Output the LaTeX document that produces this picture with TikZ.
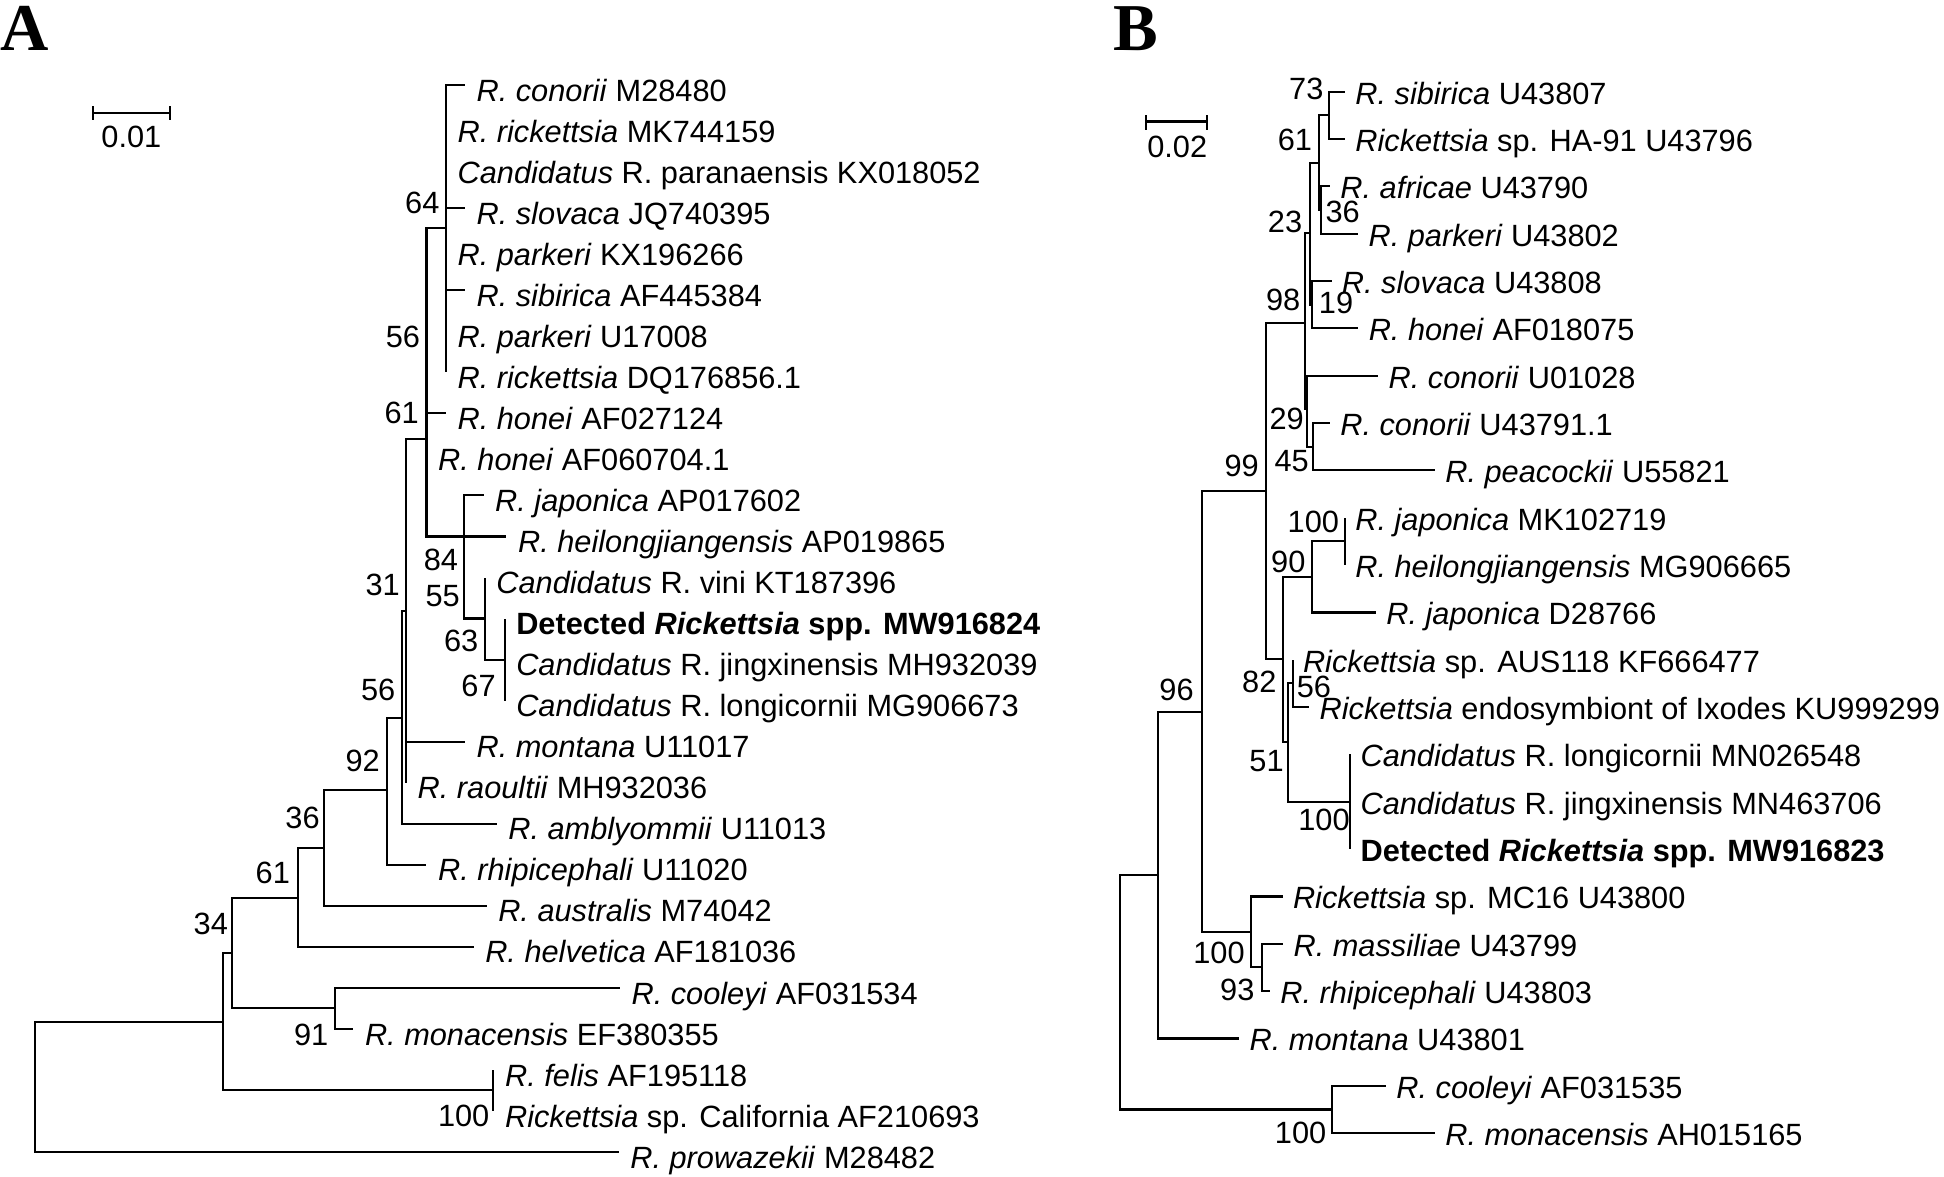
\documentclass[tikz,border=0pt]{standalone}
\usepackage{fontspec}
\setmainfont{Liberation Sans}
\newfontfamily\panelfont{Liberation Serif}
\newcommand{\lfa}[3]{\coordinate (#1) at (#2); \node[lfA] (t#1) at (#1) {#3};}
\newcommand{\lfb}[3]{\coordinate (#1) at (#2); \node[lfB] (t#1) at (#1) {#3};}
\begin{document}
\begin{tikzpicture}[x=0.5pt,y=-0.5pt,
  br/.style={line width=0.85pt},
  txt/.style={inner sep=0pt, font=\fontsize{12.4pt}{14pt}\selectfont},
  lfA/.style={txt, anchor=base west, xshift=4.5pt, yshift=-6.5pt},
  lfB/.style={txt, anchor=base west, xshift=4pt, yshift=-5pt},
  bs/.style={txt},
  panel/.style={inner sep=0pt, anchor=base west, font=\panelfont\bfseries\fontsize{27pt}{30pt}\selectfont}]
\useasboundingbox (0,0) rectangle (1568,949);
% panel letters
\node[panel] (labA) at (0,40.5) {A};
\node[panel] (labB) at (898,40.5) {B};
% scale bars
\coordinate (sAl) at (75,90.9); \coordinate (sAr) at (137,90.9);
\draw[br] (sAl) -- (sAr);
\draw[br] ([yshift=2.7pt]sAl) -- ([yshift=-2.95pt]sAl);
\draw[br] ([yshift=2.7pt]sAr) -- ([yshift=-2.95pt]sAr);
\node[bs] (sAt) at (106,110.4) {0.01};
\coordinate (sBl) at (924.5,98); \coordinate (sBr) at (973.8,98);
\draw[br] (sBl) -- (sBr);
\draw[br] ([yshift=2.6pt]sBl) -- ([yshift=-3.45pt]sBl);
\draw[br] ([yshift=2.6pt]sBr) -- ([yshift=-3.45pt]sBr);
\node[bs] (sBt) at (949.5,118.3) {0.02};

% ================= Panel A =================
\coordinate (rA) at (28,876.6);
\coordinate (xA) at (180,824);
\coordinate (nA34) at (187,769);
\coordinate (nA61L) at (240,724);
\coordinate (nA36) at (261.5,684);
\coordinate (nA92) at (312,637);
\coordinate (nA56L) at (324,579);
\coordinate (nA31) at (327.5,493);
\coordinate (nA61U) at (344,354);
\coordinate (nA64) at (359.7,184.2);
\coordinate (nA84) at (374,432.7);
\coordinate (nA63) at (391,498.9);
\coordinate (nA67) at (407,532);
\coordinate (nA91) at (270,813);
\coordinate (nAfe) at (398,879.5);

\lfa{a1}{375,68.6}{\textit{R. conorii} M28480}
\lfa{a2}{359.7,101.7}{\textit{R. rickettsia} MK744159}
\lfa{a3}{359.7,134.8}{\textit{Candidatus} R. paranaensis KX018052}
\lfa{a4}{375,167.9}{\textit{R. slovaca} JQ740395}
\lfa{a5}{359.7,201}{\textit{R. parkeri} KX196266}
\lfa{a6}{375,234.1}{\textit{R. sibirica} AF445384}
\lfa{a7}{359.7,267.2}{\textit{R. parkeri} U17008}
\lfa{a8}{359.7,300.3}{\textit{R. rickettsia} DQ176856.1}
\lfa{a9}{359.7,333.4}{\textit{R. honei} AF027124}
\lfa{a10}{344,366.5}{\textit{R. honei} AF060704.1}
\lfa{a11}{390,399.6}{\textit{R. japonica} AP017602}
\lfa{a12}{408.5,432.7}{\textit{R. heilongjiangensis} AP019865}
\lfa{a13}{391,465.8}{\textit{Candidatus} R. vini KT187396}
\lfa{a14}{407,498.9}{\textbf{Detected \textit{Rickettsia} spp. MW916824}}
\lfa{a15}{407,532}{\textit{Candidatus} R. jingxinensis MH932039}
\lfa{a16}{407,565.1}{\textit{Candidatus} R. longicornii MG906673}
\lfa{a17}{375,598.2}{\textit{R. montana} U11017}
\lfa{a18}{327.5,631.3}{\textit{R. raoultii} MH932036}
\lfa{a19}{400.6,664.4}{\textit{R. amblyommii} U11013}
\lfa{a20}{344,697.5}{\textit{R. rhipicephali} U11020}
\lfa{a21}{392.5,730.6}{\textit{R. australis} M74042}
\lfa{a22}{382,763.7}{\textit{R. helvetica} AF181036}
\lfa{a23}{500,796.8}{\textit{R. cooleyi} AF031534}
\lfa{a24}{285,829.9}{\textit{R. monacensis} EF380355}
\lfa{a25}{398,863}{\textit{R. felis} AF195118}
\lfa{a26}{398,896.1}{\textit{Rickettsia} sp. California AF210693}
\lfa{a27}{499,929.2}{\textit{R. prowazekii} M28482}

\foreach \p/\c in {rA/xA, rA/a27, xA/nA34, xA/nAfe, nAfe/a25, nAfe/a26,
  nA34/nA61L, nA34/nA91, nA91/a23, nA91/a24, nA61L/nA36, nA61L/a22,
  nA36/nA92, nA36/a21, nA92/nA56L, nA92/a20, nA56L/nA31, nA56L/a19,
  nA31/nA61U, nA31/a17, nA31/a18, nA61U/nA64, nA61U/a9, nA61U/a10,
  nA61U/nA84, nA61U/a12, nA64/a1, nA64/a2, nA64/a3, nA64/a4, nA64/a5,
  nA64/a6, nA64/a7, nA64/a8, nA84/a11, nA84/nA63, nA63/a13, nA63/nA67,
  nA67/a14, nA67/a15, nA67/a16}
  \draw[br] (\p) |- (\c);

\node[bs] (bA64) at (340.6,164) {64};
\node[bs] (bA56u) at (325,272) {56};
\node[bs] (bA61u) at (324,333) {61};
\node[bs] (bA31) at (308.6,472) {31};
\node[bs] (bA84) at (355.6,452) {84};
\node[bs] (bA55) at (357,480.5) {55};
\node[bs] (bA63) at (372,517) {63};
\node[bs] (bA67) at (386,553) {67};
\node[bs] (bA56l) at (305,556.5) {56};
\node[bs] (bA92) at (292.5,614) {92};
\node[bs] (bA36) at (244,660) {36};
\node[bs] (bA61l) at (220,704) {61};
\node[bs] (bA34) at (170,745) {34};
\node[bs] (bA91) at (251,835) {91};
\node[bs] (bA100) at (374,900) {100};

% ================= Panel B =================
\coordinate (rB) at (903.3,800.85);
\coordinate (nBcm) at (1074.1,894.9);
\coordinate (nBr1) at (934.2,705.8);
\coordinate (nB96) at (969.2,574);
\coordinate (nBmc) at (1008.7,751.5);
\coordinate (nB93) at (1017.6,780.3);
\coordinate (nB99) at (1020.8,395.7);
\coordinate (nB82) at (1034.5,531.8);
\coordinate (nB90) at (1057.9,465.6);
\coordinate (nBj) at (1084.8,436.7);
\coordinate (nB51) at (1039.1,598.2);
\coordinate (nB56) at (1042.6,551.2);
\coordinate (nBc) at (1089,646.7);
\coordinate (nB98) at (1052.5,260.3);
\coordinate (nB29) at (1054.5,330);
\coordinate (nB45) at (1059.3,360.3);
\coordinate (nB23) at (1056.6,188.2);
\coordinate (nB19) at (1058.5,245.8);
\coordinate (nB61) at (1063.8,131.7);
\coordinate (nB36) at (1065.5,169.5);
\coordinate (nB73) at (1072.2,93.1);

\lfb{b1}{1084.8,74}{\textit{R. sibirica} U43807}
\lfb{b2}{1084.8,112.18}{\textit{Rickettsia} sp. HA-91 U43796}
\lfb{b3}{1072.8,150.36}{\textit{R. africae} U43790}
\lfb{b4}{1095.5,188.54}{\textit{R. parkeri} U43802}
\lfb{b5}{1074,226.72}{\textit{R. slovaca} U43808}
\lfb{b6}{1095.6,264.9}{\textit{R. honei} AF018075}
\lfb{b7}{1111.7,303.08}{\textit{R. conorii} U01028}
\lfb{b8}{1072.7,341.26}{\textit{R. conorii} U43791.1}
\lfb{b9}{1157.4,379.44}{\textit{R. peacockii} U55821}
\lfb{b10}{1084.8,417.62}{\textit{R. japonica} MK102719}
\lfb{b11}{1084.8,455.8}{\textit{R. heilongjiangensis} MG906665}
\lfb{b12}{1109.8,493.98}{\textit{R. japonica} D28766}
\lfb{b13}{1042.6,532.16}{\textit{Rickettsia} sp. AUS118 KF666477}
\lfb{b14}{1056,570.34}{\textit{Rickettsia} endosymbiont of Ixodes KU999299}
\lfb{b15}{1089,608.52}{\textit{Candidatus} R. longicornii MN026548}
\lfb{b16}{1089,646.7}{\textit{Candidatus} R. jingxinensis MN463706}
\lfb{b17}{1089,684.88}{\textbf{Detected \textit{Rickettsia} spp. MW916823}}
\lfb{b18}{1034.5,723.06}{\textit{Rickettsia} sp. MC16 U43800}
\lfb{b19}{1035,761.24}{\textit{R. massiliae} U43799}
\lfb{b20}{1024.3,799.42}{\textit{R. rhipicephali} U43803}
\lfb{b21}{999.6,837.6}{\textit{R. montana} U43801}
\lfb{b22}{1117.9,875.78}{\textit{R. cooleyi} AF031535}
\lfb{b23}{1157.4,913.96}{\textit{R. monacensis} AH015165}

\foreach \p/\c in {rB/nBr1, rB/nBcm, nBcm/b22, nBcm/b23, nBr1/nB96, nBr1/b21,
  nB96/nB99, nB96/nBmc, nBmc/b18, nBmc/nB93, nB93/b19, nB93/b20,
  nB99/nB98, nB99/nB82, nB82/nB90, nB82/nB51, nB90/nBj, nB90/b12,
  nBj/b10, nBj/b11, nB51/nB56, nB51/nBc, nB56/b13, nB56/b14,
  nBc/b15, nBc/b16, nBc/b17, nB98/nB23, nB98/nB29, nB29/b7, nB29/nB45,
  nB45/b8, nB45/b9, nB23/nB61, nB23/nB19, nB19/b5, nB19/b6,
  nB61/nB73, nB61/nB36, nB36/b3, nB36/b4, nB73/b1, nB73/b2}
  \draw[br] (\p) |- (\c);

\node[bs] (bB73) at (1053.6,72) {73};
\node[bs] (bB61) at (1044.5,113) {61};
\node[bs] (bB36) at (1083,171) {36};
\node[bs] (bB23) at (1036.5,179) {23};
\node[bs] (bB98) at (1035,242) {98};
\node[bs] (bB19) at (1077.6,244) {19};
\node[bs] (bB29) at (1037.8,338) {29};
\node[bs] (bB45) at (1041.8,372) {45};
\node[bs] (bB99) at (1001.5,376) {99};
\node[bs] (bB100a) at (1059.3,421) {100};
\node[bs] (bB90) at (1039.1,453) {90};
\node[bs] (bB82) at (1015.7,549.8) {82};
\node[bs] (bB56) at (1059.8,554) {56};
\node[bs] (bB51) at (1021.6,613.5) {51};
\node[bs] (bB96) at (949,556.5) {96};
\node[bs] (bB100b) at (1067.9,661) {100};
\node[bs] (bB100c) at (983.2,768.2) {100};
\node[bs] (bB93) at (998,798.5) {93};
\node[bs] (bB100d) at (1049,913.6) {100};
\end{tikzpicture}
\end{document}
